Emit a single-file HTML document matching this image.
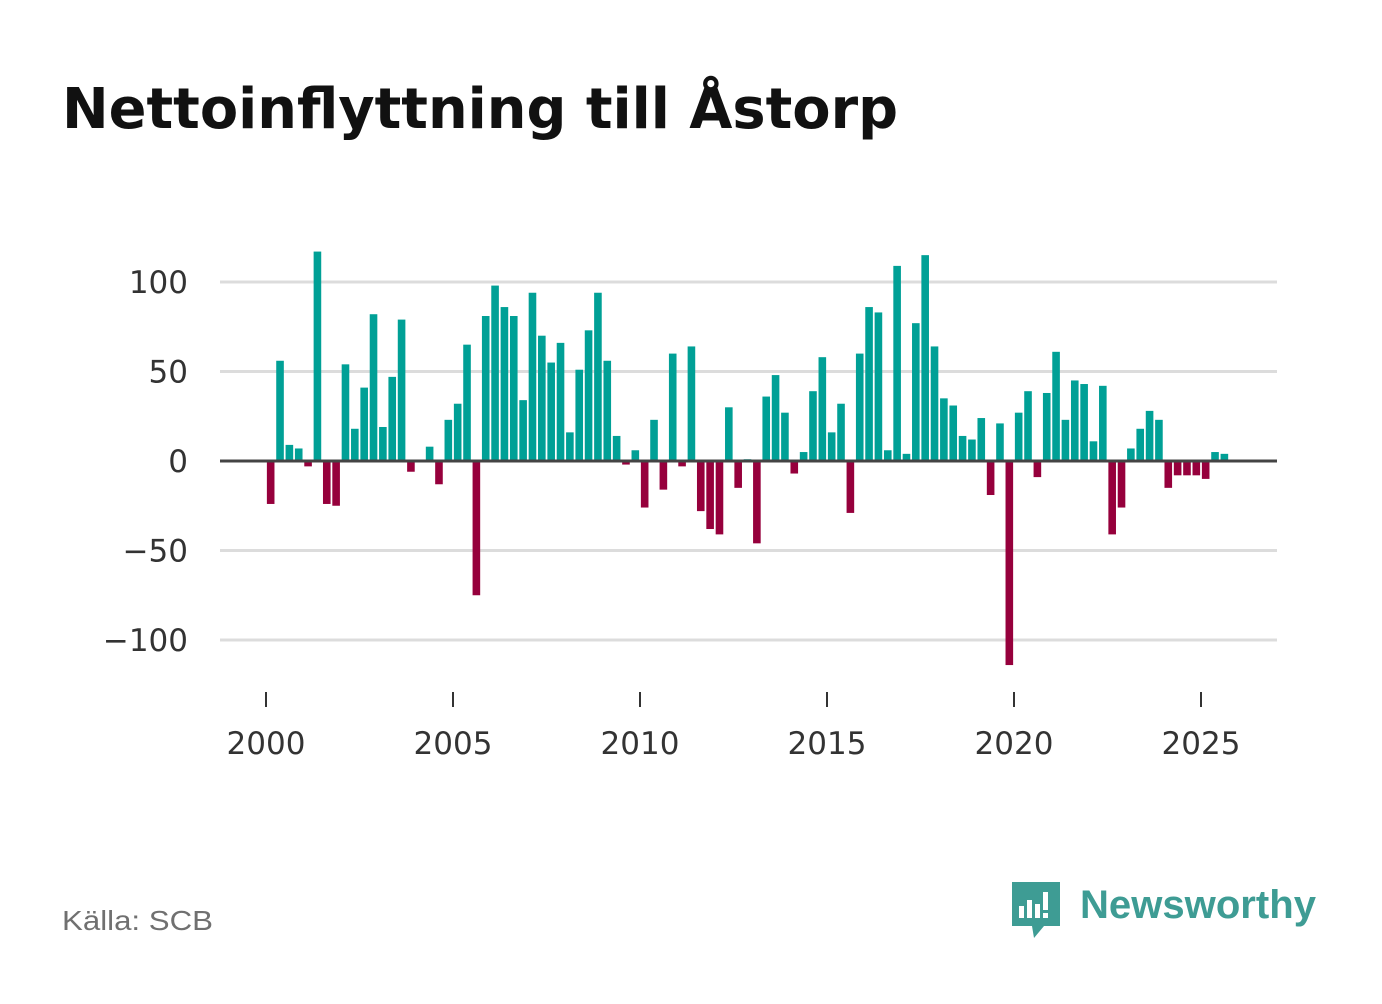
<!DOCTYPE html>
<html><head><meta charset="utf-8"><style>
body{margin:0;width:1382px;height:999px;background:#fff;font-family:"Liberation Sans","DejaVu Sans",sans-serif;overflow:hidden}
</style></head><body>
<svg width="1382" height="999" xmlns="http://www.w3.org/2000/svg">
<text x="62" y="128" font-size="56" font-weight="bold" fill="#111" textLength="836" lengthAdjust="spacingAndGlyphs" font-family="DejaVu Sans, sans-serif">Nettoinflyttning till Åstorp</text>
<g id="grid"></g><g id="bars"></g><g id="xt"></g>
<text x="62" y="930" font-size="28" fill="#707070" textLength="151" lengthAdjust="spacingAndGlyphs">Källa: SCB</text>
<g>
<path d="M1012 882h48v44h-16l-10 12-2-12h-20z" fill="#3e9c94"/>
<rect x="1019" y="906" width="5" height="12" fill="#fff"/><rect x="1027" y="900" width="5" height="18" fill="#fff"/><rect x="1035" y="904" width="5" height="14" fill="#fff"/><rect x="1043" y="892" width="5" height="18" fill="#fff"/><rect x="1043" y="913" width="5" height="5" fill="#fff"/>
<text x="1080" y="918" font-size="40" font-weight="bold" fill="#3e9c94" textLength="236" lengthAdjust="spacingAndGlyphs">Newsworthy</text>
</g>
</svg>
<script>
const values=[-24,56,9,7,-3,117,-24,-25,54,18,41,82,19,47,79,-6,0,8,-13,23,32,65,-75,81,98,86,81,34,94,70,55,66,16,51,73,94,56,14,-2,6,-26,23,-16,60,-3,64,-28,-38,-41,30,-15,1,-46,36,48,27,-7,5,39,58,16,32,-29,60,86,83,6,109,4,77,115,64,35,31,14,12,24,-19,21,-114,27,39,-9,38,61,23,45,43,11,42,-41,-26,7,18,28,23,-15,-8,-8,-8,-10,5,4];
const startYear=2000;
const yTicks=[100,50,0,-50,-100];
const yLabels=["100","50","0","\u221250","\u2212100"];
const xTicks=[2000,2005,2010,2015,2020,2025];
const NS="http://www.w3.org/2000/svg";
const x=t=>266+(t-startYear)*37.4;
const y=v=>461-v*1.79;
function mk(tag,attrs,parent){const e=document.createElementNS(NS,tag);for(const k in attrs)e.setAttribute(k,attrs[k]);parent.appendChild(e);return e;}
const grid=document.getElementById('grid');
yTicks.forEach((v,i)=>{
 if(v!==0){const l=mk('line',{x1:220,x2:1277,y1:y(v),y2:y(v),stroke:'#dcdcdc','stroke-width':3},grid);
 
 }
 const t=mk('text',{x:188,y:y(v)+11,'text-anchor':'end','font-size':31,fill:'#333','font-family':'DejaVu Sans, sans-serif'},grid);
 t.textContent=yLabels[i];
 
 
});
const bars=document.getElementById('bars');
values.forEach((v,i)=>{
 const cx=x(startYear+(i+0.5)/4);
 const r=mk('rect',{x:cx-3.8,width:7.6,y:Math.min(y(v),y(0)),height:Math.abs(y(v)-y(0)),fill:v>=0?'#00a096':'#96003c'},bars);
 
 
});
const zl=mk('line',{x1:220,x2:1277,y1:y(0),y2:y(0),stroke:'#444','stroke-width':3},bars);


const xt=document.getElementById('xt');
xTicks.forEach(yr=>{
 const l=mk('line',{x1:x(yr),x2:x(yr),y1:692,y2:707,stroke:'#333','stroke-width':2},xt);
 
 
 const t=mk('text',{x:x(yr),y:754,'text-anchor':'middle','font-size':31,fill:'#333','font-family':'DejaVu Sans, sans-serif'},xt);
 t.textContent=yr;
 
 
});
</script>
</body></html>
